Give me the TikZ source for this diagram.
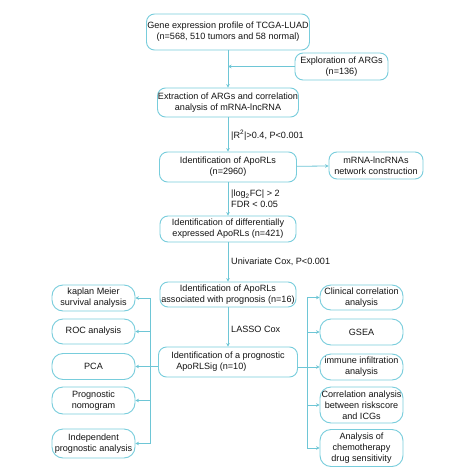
\documentclass[tikz,border=0pt]{standalone}
\usepackage{fontspec}
\setmainfont{Liberation Sans}
\usetikzlibrary{arrows.meta}
\definecolor{bord}{RGB}{120,205,220}
\definecolor{arrc}{RGB}{110,198,214}
\definecolor{txt}{RGB}{20,20,20}
\begin{document}
\begin{tikzpicture}[x=1pt,y=-1pt,
  box/.style={draw=bord, line width=0.9pt, rounded corners=8pt, inner sep=0pt, align=center,
    font=\fontsize{9.1}{10.8}\selectfont, text=txt},
  sbox/.style={box, rounded corners=11pt, minimum width=83pt},
  lab/.style={anchor=west, inner sep=0pt, align=left, font=\fontsize{9.1}{10.8}\selectfont, text=txt},
  arr/.style={draw=arrc, line width=0.8pt, -{Stealth[length=3.5pt,width=3.5pt]}},
  ln/.style={draw=arrc, line width=0.8pt}]
\fill[white] (0,0) rectangle (474,474);
\useasboundingbox (0,0) rectangle (474,474);
% main column
\node[box, minimum width=163pt, minimum height=36pt] (b1) at (228,32) {Gene expression profile of TCGA-LUAD\\(n=568, 510 tumors and 58 normal)};
\node[box, minimum width=93pt, minimum height=27pt] (ex) at (341.5,66.5) {Exploration of ARGs\\(n=136)};
\node[box, minimum width=141pt, minimum height=29pt] (b2) at (228,102.5) {Extraction of ARGs and correlation\\analysis of mRNA-lncRNA};
\node[box, minimum width=137pt, minimum height=30pt] (b3) at (228,167) {Identification of ApoRLs\\(n=2960)};
\node[box, minimum width=94pt, minimum height=27pt] (mr) at (376,165.5) {mRNA-lncRNAs\\network construction};
\node[box, minimum width=136pt, minimum height=26pt] (b4) at (228,229) {Identification of differentially\\expressed ApoRLs (n=421)};
\node[box, minimum width=136pt, minimum height=25pt] (b5) at (228,294.5) {Identification of ApoRLs\\associated with prognosis (n=16)};
\node[box, minimum width=139pt, minimum height=30pt, align=left] (b6) at (228,362) {Identification of a prognostic\\\hspace*{5pt}ApoRLSig (n=10)};
% left column
\node[sbox, minimum height=26pt] (L1) at (93.5,298) {kaplan Meier\\survival analysis};
\node[sbox, minimum height=25pt] (L2) at (93.5,331.5) {ROC analysis};
\node[sbox, minimum height=26pt] (L3) at (93.5,366.5) {PCA};
\node[sbox, minimum height=27pt] (L4) at (93.5,400.5) {Prognostic\\nomogram};
\node[sbox, minimum height=29pt] (L5) at (93.5,443.5) {Independent\\prognostic analysis};
% right column
\node[sbox, minimum height=25pt] (R1) at (361.5,297.5) {Clinical correlation\\analysis};
\node[sbox, minimum height=26pt] (R2) at (361.5,332) {GSEA};
\node[sbox, minimum height=26pt] (R3) at (361.5,367) {immune infiltration\\analysis};
\node[sbox, minimum height=36pt] (R4) at (361.5,405) {Correlation analysis\\between riskscore\\and ICGs};
\node[sbox, minimum height=37pt] (R5) at (361.5,448) {Analysis of\\chemotherapy\\drug sensitivity};
% labels
\node[lab] (t1) at (231,135) {|R\textsuperscript{2}|>0.4, P<0.001};
\node[lab] (t2) at (231,199) {|log\textsubscript{2}FC| > 2\\FDR < 0.05};
\node[lab] (t3) at (231,262) {Univariate Cox, P<0.001};
\node[lab] (t4) at (231,329) {LASSO Cox};
% connectors
\coordinate (lv) at (150,0);
\coordinate (rv) at (307,0);
\draw[arr] (b1) -- (b2);
\draw[arr] (ex.west) -- (ex.west -| b1.south);
\draw[arr] (b2) -- (b3);
\draw[arr] (b3) -- (mr);
\draw[arr] (b3) -- (b4);
\draw[arr] (b4) -- (b5);
\draw[arr] (b5) -- (b6);
\draw[ln] (b6.west |- L3.east) -- (L3.east -| lv);
\draw[ln] (L1.east -| lv) -- (L5.east -| lv);
\foreach \n in {L1,L2,L3,L4,L5} \draw[arr] (\n.east -| lv) -- (\n.east);
\draw[ln] (b6.east |- R3.west) -- (R3.west -| rv);
\draw[ln] (R1.west -| rv) -- (R5.west -| rv);
\foreach \n in {R1,R2,R3,R4,R5} \draw[arr] (\n.west -| rv) -- (\n.west);
\end{tikzpicture}
\end{document}
